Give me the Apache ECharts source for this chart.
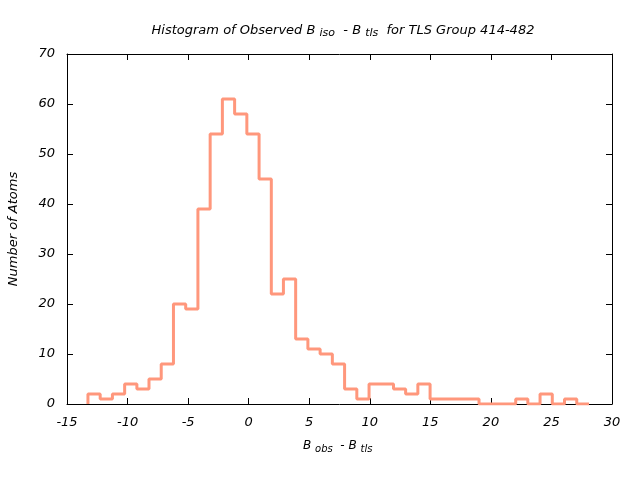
<!DOCTYPE html>
<html><head><meta charset="utf-8">
<script src="https://cdn.jsdelivr.net/npm/echarts@6/dist/echarts.min.js"></script>
<style>html,body{margin:0;padding:0;background:#fff}#c{width:640px;height:480px}</style>
</head><body><div id="c"></div>
<script>
// Bin edges (B_obs - B_tls) and counts per bin
var binEdges = [-13.27,-12.26,-11.25,-10.24,-9.23,-8.23,-7.22,-6.21,-5.20,-4.19,-3.18,-2.17,-1.16,-0.15,0.86,1.87,2.87,3.88,4.89,5.90,6.91,7.92,8.93,9.94,10.95,11.96,12.96,13.97,14.98,15.99,17.00,18.01,19.02,20.03,21.04,22.05,23.05,24.06,25.07,26.08,27.09,28.10];
var counts = [2,1,2,4,3,5,8,20,19,39,54,61,58,54,45,22,25,13,11,10,8,3,1,4,4,3,2,4,1,1,1,1,0,0,0,1,0,2,0,1,0];
var xTicks = [-15,-10,-5,0,5,10,15,20,25,30];
var yTicks = [0,10,20,30,40,50,60,70];

var pts = [[binEdges[0], 0]];
for (var i = 0; i < counts.length; i++) {
  pts.push([binEdges[i], counts[i]]);
  pts.push([binEdges[i+1], counts[i]]);
}

var font = 'DejaVu Sans';
var chart = echarts.init(document.getElementById('c'), null, {renderer: 'canvas'});
var tickStyle = {show: true, inside: true, length: 6, lineStyle: {color: '#000', width: 1}};
chart.setOption({
  animation: false,
  backgroundColor: '#fff',
  title: {
    text: '{t|Histogram of Observed B }{s|iso}{t|  - B }{s|tls}{t|  for TLS Group 414-482}',
    left: 338, top: 17, textAlign: 'center',
    textStyle: {fontWeight: 'normal', rich: {
      t: {fontFamily: font, fontStyle: 'italic', fontWeight: 'normal', fontSize: 13, color: '#000'},
      s: {fontFamily: font, fontStyle: 'italic', fontWeight: 'normal', fontSize: 11, color: '#000', padding: [6,0,0,0]}
    }}
  },
  graphic: [
    {type: 'text', left: 303, top: 440, style: {
      text: '{t|B }{s|obs}{t|  - B }{s|tls}',
      rich: {
        t: {fontFamily: font, fontStyle: 'italic', fontSize: 12, fill: '#000'},
        s: {fontFamily: font, fontStyle: 'italic', fontSize: 10, fill: '#000', padding: [6,0,0,0]}
      }}},
    {type: 'text', x: 7, y: 229, rotation: Math.PI/2, style: {
      text: 'Number of Atoms', fontFamily: font, fontStyle: 'italic', fontSize: 13, fill: '#000',
      align: 'center', verticalAlign: 'top'}}
  ],
  grid: {left: 67, right: 28, top: 54, bottom: 76},
  xAxis: [
    {type: 'value', min: -15, max: 30, interval: 5, position: 'bottom',
     axisLine: {show: true, onZero: false, lineStyle: {color: '#000', width: 1}},
     axisTick: tickStyle, splitLine: {show: false},
     axisLabel: {margin: 12, fontFamily: font, fontStyle: 'italic', fontSize: 13, color: '#000',
       formatter: function(v){ return xTicks.indexOf(v) >= 0 ? String(v) : ''; }}},
    {type: 'value', min: -15, max: 30, interval: 5, position: 'top',
     axisLine: {show: true, onZero: false, lineStyle: {color: '#000', width: 1}},
     axisTick: tickStyle, splitLine: {show: false}, axisLabel: {show: false}}
  ],
  yAxis: [
    {type: 'value', min: 0, max: 70, interval: 10, position: 'left',
     axisLine: {show: true, onZero: false, lineStyle: {color: '#000', width: 1}},
     axisTick: tickStyle, splitLine: {show: false},
     axisLabel: {margin: 12, fontFamily: font, fontStyle: 'italic', fontSize: 13, color: '#000',
       formatter: function(v){ return yTicks.indexOf(v) >= 0 ? String(v) : ''; }}},
    {type: 'value', min: 0, max: 70, interval: 10, position: 'right',
     axisLine: {show: true, onZero: false, lineStyle: {color: '#000', width: 1}},
     axisTick: tickStyle, splitLine: {show: false}, axisLabel: {show: false}}
  ],
  series: [{
    type: 'line', data: pts, showSymbol: false, symbol: 'none',
    lineStyle: {color: '#ff977c', width: 3}, itemStyle: {color: '#ff977c'}
  }]
});
</script></body></html>
